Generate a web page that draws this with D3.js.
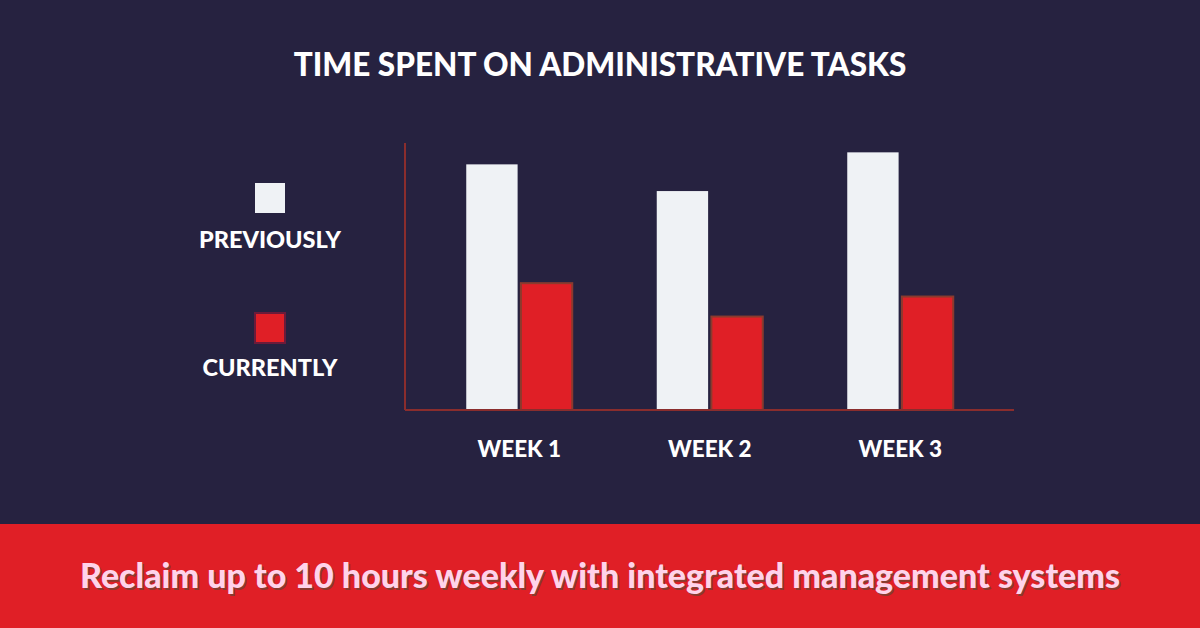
<!DOCTYPE html><html><head><meta charset="utf-8"><script src="https://cdn.jsdelivr.net/npm/d3@7"></script>
<style>body{margin:0;background:#262240}</style></head><body><svg id="c" width="1200" height="628"></svg>
<script>
const weeks=["WEEK 1","WEEK 2","WEEK 3"];
const series=["PREVIOUSLY","CURRENTLY"];
const previously=[92,82,96.5];
const currently=[47.5,35,42.5];
const colors=["#eff2f5","#e01f26"];
const svg=d3.select("#c");
const F="'Lato','Noto Sans',sans-serif";
svg.append("rect").attr("width",1200).attr("height",628).attr("fill","#262240");
svg.append("rect").attr("y",524).attr("width",1200).attr("height",104).attr("fill","#e01f26");
svg.append("text").attr("x",600).attr("y",76).attr("text-anchor","middle").attr("fill","#fff").attr("font-family",F).attr("font-weight",900).attr("font-size",31.5).text("TIME SPENT ON ADMINISTRATIVE TASKS");
const foot="Reclaim up to 10 hours weekly with integrated management systems";
svg.append("text").attr("x",601.5).attr("y",589.5).attr("text-anchor","middle").attr("fill","#8a3b2e").attr("font-family",F).attr("font-weight",900).attr("font-size",34).text(foot);
svg.append("text").attr("x",600).attr("y",588).attr("text-anchor","middle").attr("fill","#ffd3ea").attr("font-family",F).attr("font-weight",900).attr("font-size",34).text(foot);
const y=d3.scaleLinear().domain([0,100]).range([410,143]);
const x0=d3.scaleBand().domain(weeks).range([424,995.5]);
const bw=x0.bandwidth();
const x1=d3.scaleBand().domain(series).range([bw/2-53,bw/2+53]).paddingInner(0.06);
const vals=[previously,currently];
const g=svg.append("g");
weeks.forEach((w,i)=>{series.forEach((s,j)=>{
 g.append("rect").attr("x",x0(w)+x1(s)).attr("y",y(vals[j][i])).attr("width",x1.bandwidth()).attr("height",y(0)-y(vals[j][i]))
  .attr("fill",colors[j]).attr("stroke",j?"#8a3b2e":"none").attr("stroke-width",2);
});});
const xa=svg.append("g").attr("transform","translate(0,410)").call(d3.axisBottom(x0).tickSize(0).tickPadding(31));
xa.select(".domain").attr("d","M405,0H1014").attr("stroke","#8a2d2d").attr("stroke-width",2);
xa.selectAll("text").attr("fill","#fff").attr("font-family",F).attr("font-weight",900).attr("font-size",22.5).attr("dy","0.7em");
svg.append("line").attr("x1",405).attr("x2",405).attr("y1",143).attr("y2",410).attr("stroke","#8a2d2d").attr("stroke-width",2);
const leg=[{y:183,ty:248},{y:313,ty:376}];
series.forEach((s,j)=>{
 svg.append("rect").attr("x",255).attr("y",leg[j].y).attr("width",30).attr("height",30).attr("fill",colors[j]).attr("stroke",j?"#6b1b3a":"none").attr("stroke-width",2);
 svg.append("text").attr("x",270).attr("y",leg[j].ty).attr("text-anchor","middle").attr("fill","#fff").attr("font-family",F).attr("font-weight",900).attr("font-size",23.5).text(s);
});
</script></body></html>
